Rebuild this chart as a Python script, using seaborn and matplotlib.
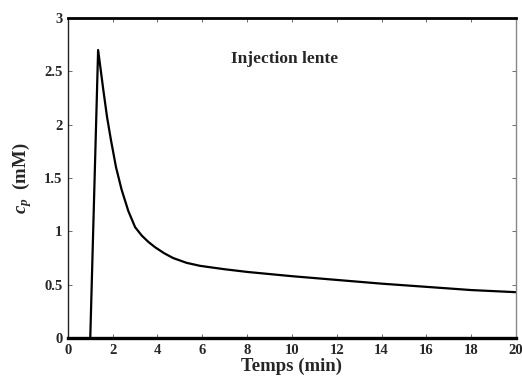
import matplotlib
matplotlib.use('Agg')
import matplotlib.pyplot as plt
import seaborn as sns
import pandas as pd

# values
temps = [1.0, 1.35, 1.58, 1.75, 1.92, 2.15, 2.4, 2.7, 3.0, 3.3, 3.6, 3.9, 4.3, 4.7,
         5.3, 5.9, 7, 8, 10, 12, 14, 16, 18, 20]
cp = [0.0, 2.70, 2.33, 2.07, 1.86, 1.60, 1.39, 1.19, 1.04, 0.96, 0.90, 0.85, 0.795, 0.75,
      0.705, 0.677, 0.645, 0.62, 0.58, 0.545, 0.51, 0.48, 0.45, 0.43]
xticks = [0, 2, 4, 6, 8, 10, 12, 14, 16, 18, 20]
yticks = [0, 0.5, 1, 1.5, 2, 2.5, 3]
ylabels = ['0', '0.5', '1', '1.5', '2', '2.5', '3']

df = pd.DataFrame({'t': temps, 'cp': cp})

sns.set_style('white')
plt.rcParams['font.family'] = ['Liberation Serif', 'DejaVu Serif']
plt.rcParams['mathtext.fontset'] = 'custom'
plt.rcParams['mathtext.it'] = 'Liberation Serif:italic:bold'
plt.rcParams['mathtext.rm'] = 'Liberation Serif:bold'

fig = plt.figure(figsize=(5.22, 3.79), dpi=100)
ax = fig.add_axes([0.130, 0.108, 0.8585, 0.8445])

sns.lineplot(x='t', y='cp', data=df, color='black', linewidth=1.6, ax=ax)

ax.set_xlim(0, 20)
ax.set_ylim(0, 3)
ax.set_xticks(xticks)
ax.set_xticklabels([str(v) for v in xticks], fontweight='bold', fontsize=10.5)
ax.set_yticks(yticks)
ax.set_yticklabels(ylabels, fontweight='bold', fontsize=10.5)

ax.tick_params(direction='in', length=3, width=0.6, color='#555555',
               top=True, right=True, bottom=True, left=True, pad=4)

ax.spines['top'].set_linewidth(2.0)
ax.spines['top'].set_color('black')
ax.spines['bottom'].set_linewidth(2.4)
ax.spines['bottom'].set_color('black')
ax.spines['left'].set_linewidth(1.0)
ax.spines['left'].set_color('#222222')
ax.spines['right'].set_linewidth(1.0)
ax.spines['right'].set_color('#888888')

ax.set_xlabel('Temps (min)', fontweight='bold', fontsize=13.5, labelpad=1)
ax.set_ylabel(r'$c_p$  (mM)', fontweight='bold', fontsize=13.5, labelpad=7)

ax.text(9.65, 2.62, 'Injection lente', fontweight='bold', fontsize=12.5,
        ha='center', va='center')

fig.savefig('out.png', dpi=100)
